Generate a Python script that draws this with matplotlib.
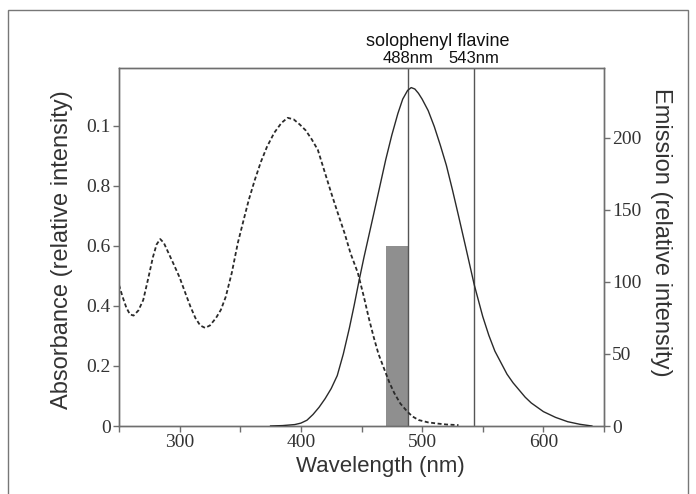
import matplotlib
matplotlib.use("Agg")
import matplotlib.pyplot as plt
from matplotlib.patches import Rectangle

# ---- data ----
abs_wl = [250, 253, 256, 259, 262, 266, 270, 274, 278, 281, 284, 287, 291, 295, 300, 305,
          309, 313, 317, 321, 325, 330, 334, 338, 343, 348, 353, 357, 362, 367, 372, 378,
          384, 389, 394, 399, 404, 409, 414, 419, 425, 430, 436, 441, 447, 452, 456, 460,
          464, 469, 473, 477, 482, 488, 492, 497, 505, 513, 520, 530]
abs_val = [0.47, 0.43, 0.395, 0.372, 0.368, 0.385, 0.42, 0.49, 0.563, 0.605, 0.623, 0.61,
           0.575, 0.54, 0.495, 0.44, 0.397, 0.36, 0.335, 0.327, 0.335, 0.36, 0.387, 0.43,
           0.51, 0.61, 0.69, 0.753, 0.82, 0.88, 0.93, 0.977, 1.01, 1.027, 1.022, 1.005,
           0.985, 0.955, 0.92, 0.855, 0.777, 0.715, 0.643, 0.575, 0.51, 0.43, 0.36, 0.297,
           0.24, 0.187, 0.145, 0.11, 0.075, 0.047, 0.032, 0.02, 0.012, 0.008, 0.005, 0.003]

em_wl = [375, 385, 395, 400, 405, 410, 415, 420, 425, 430, 435, 440, 444, 448, 452, 456,
         460, 465, 470, 475, 480, 484, 488, 491, 494, 497, 500, 505, 510, 515, 520, 525,
         530, 536, 543, 550, 555, 560, 565, 570, 575, 580, 585, 590, 595, 600, 610, 620,
         630, 640]
em_val = [0, 0.3, 1, 2, 4, 8, 13, 19, 26, 35, 50, 68, 84, 101, 117, 132,
          147, 166, 185, 202, 217, 227, 233, 235, 234, 231, 227, 219, 208, 195, 181, 164,
          146, 124, 98, 76, 63, 52, 44, 36, 30, 25, 20, 16, 13, 10, 6, 3,
          1.2, 0]

bar_start, bar_end, bar_height = 470, 488, 0.6
laser_lines = [488, 543]
laser_labels = ["488nm", "543nm"]
dye_name = "solophenyl flavine"

x_ticks = [250, 300, 350, 400, 450, 500, 550, 600, 650]
x_ticklabels = ["", "300", "", "400", "", "500", "", "600", ""]
left_ticks = [0, 0.2, 0.4, 0.6, 0.8, 1.0]
left_ticklabels = ["0", "0.2", "0.4", "0.6", "0.8", "0.1"]
right_ticks = [0, 50, 100, 150, 200]
right_ticklabels = ["0", "50", "100", "150", "200"]

# ---- figure ----
W, H = 696, 494
fig = plt.figure(figsize=(W / 100, H / 100), dpi=100)
fig.patch.set_facecolor("white")

# outer frame
fig.add_artist(Rectangle((8 / W, -0.02), (688 - 8) / W, 1.02 - 10 / H,
                         transform=fig.transFigure, fill=False, edgecolor="#777777", lw=1.0))

ax = fig.add_axes([119 / W, 1 - 426 / H, (604 - 119) / W, (426 - 68) / H])
ax2 = ax.twinx()

spine_col = "#6e6e6e"
txt_col = "#333333"
serif = ["Liberation Serif", "DejaVu Serif"]
sans = ["Liberation Sans", "DejaVu Sans"]

ax.set_xlim(250, 650)
ax.set_ylim(0, 1.193)
ax2.set_ylim(0, 248.6)

# bar
ax.bar([(bar_start + bar_end) / 2], [bar_height], width=bar_end - bar_start,
       color="#8f8f8f", edgecolor="none", zorder=1)

# absorbance (dashed)
ax.plot(abs_wl, abs_val, color="#2a2a2a", lw=1.3, linestyle=(0, (2.2, 1.4)), zorder=3)
# emission (solid)
ax2.plot(em_wl, em_val, color="#2a2a2a", lw=1.0, zorder=3)

for xl in laser_lines:
    ax.axvline(xl, color="#555555", lw=1.0, zorder=2)

for a in (ax, ax2):
    for s in a.spines.values():
        s.set_color(spine_col)
        s.set_linewidth(1.0)

tick_fs = 14
ax.set_xticks(x_ticks)
ax.set_xticklabels(x_ticklabels, fontfamily=serif, fontsize=tick_fs, color=txt_col)
ax.set_yticks(left_ticks)
ax.set_yticklabels(left_ticklabels, fontfamily=serif, fontsize=tick_fs, color=txt_col)
ax2.set_yticks(right_ticks)
ax2.set_yticklabels(right_ticklabels, fontfamily=serif, fontsize=tick_fs, color=txt_col)

ax.tick_params(axis="both", direction="out", length=4, width=1, colors=spine_col,
               labelcolor=txt_col, pad=2)
ax2.tick_params(axis="y", direction="out", length=4, width=1, colors=spine_col,
                labelcolor=txt_col, pad=2)

ax.set_xlabel("Wavelength (nm)", fontfamily=sans, fontsize=16, color=txt_col)
ax.xaxis.label.set_va("center")
ax.xaxis.set_label_coords((380 - 119) / (604 - 119), -(466 - 426) / (426 - 68))

ax.set_ylabel("Absorbance (relative intensity)", fontfamily=sans, fontsize=17, color=txt_col,
              va="center")
ax.yaxis.set_label_coords(-(119 - 62) / (604 - 119), (426 - 250) / (426 - 68))
ax2.set_ylabel("Emission (relative intensity)", fontfamily=sans, fontsize=17,
               color=txt_col, rotation=270, va="center")
ax2.yaxis.set_label_coords(1 + (661 - 604) / (604 - 119), (426 - 232) / (426 - 68))

# labels above the plot
trans = ax.get_xaxis_transform()
for xl, lab in zip(laser_lines, laser_labels):
    ax.text(xl, 1.005, lab, transform=trans, ha="center", va="bottom",
            fontfamily=sans, fontsize=12, color="#111111")
ax.text((laser_lines[0] + laser_lines[1]) / 2 - 3, 1.05, dye_name, transform=trans,
        ha="center", va="bottom", fontfamily=sans, fontsize=13, color="#111111")

fig.savefig("out.png", dpi=100)
